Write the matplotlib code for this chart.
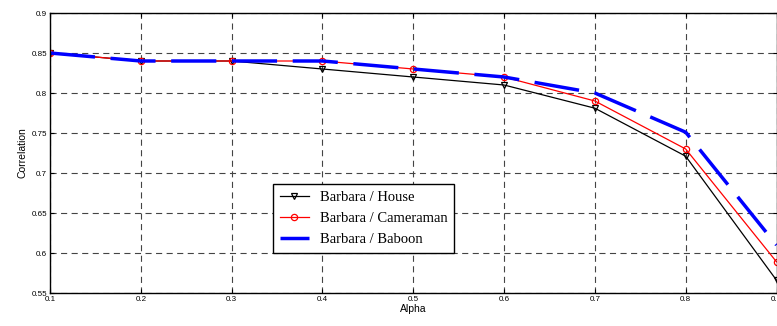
import matplotlib
matplotlib.use("Agg")
import matplotlib.pyplot as plt

alpha = [0.1, 0.2, 0.3, 0.4, 0.5, 0.6, 0.7, 0.8, 0.9]
house = [0.85, 0.84, 0.84, 0.83, 0.82, 0.81, 0.781, 0.721, 0.566]
cameraman = [0.85, 0.84, 0.84, 0.84, 0.83, 0.82, 0.79, 0.73, 0.589]
baboon = [0.85, 0.84, 0.84, 0.84, 0.83, 0.82, 0.80, 0.751, 0.61]
xticks = [0.1, 0.2, 0.3, 0.4, 0.5, 0.6, 0.7, 0.8, 0.9]
yticks = [0.55, 0.6, 0.65, 0.7, 0.75, 0.8, 0.85, 0.9]

fig = plt.figure(figsize=(7.77, 3.26), dpi=100)
ax = fig.add_axes([50/777, (326-293)/326, 726.5/777, 280/326])

ax.plot(alpha, house, color='black', lw=0.9, marker='v', ms=4.5, mfc='none', mec='black', mew=0.9,
        label='Barbara / House')
ax.plot(alpha, cameraman, color='red', lw=0.9, marker='o', ms=4.5, mfc='none', mec='red', mew=0.9,
        label='Barbara / Cameraman')
ax.plot(alpha, baboon, color='blue', lw=2.5, linestyle=(0, (13, 4.5)),
        label='Barbara / Baboon')

ax.set_xlim(0.1, 0.9)
ax.set_ylim(0.55, 0.9)
ax.set_xticks(xticks)
ax.set_yticks(yticks)
ax.set_xticklabels([f"{v:g}" for v in xticks], fontsize=5.8, family='Liberation Sans')
ax.set_yticklabels([f"{v:g}" for v in yticks], fontsize=5.8, family='Liberation Sans')
ax.tick_params(direction='in', top=True, right=True, length=3, width=0.8, pad=2)
ax.grid(True, color='#444444', linestyle=(0, (5.5, 4)), lw=0.8)
for s in ax.spines.values():
    s.set_linewidth(1.0)
ax.set_xlabel('Alpha', fontsize=7.5, family='Liberation Sans', labelpad=1)
ax.set_ylabel('Correlation', fontsize=7.5, family='Liberation Sans', labelpad=3)

leg = ax.legend(loc='lower left', bbox_to_anchor=((273-50)/726.5, (293-253)/280),
                prop={'family': 'Liberation Serif', 'size': 10.5}, fancybox=False,
                edgecolor='black', framealpha=1, borderpad=0.45, labelspacing=0.55,
                handlelength=2.0, handletextpad=0.75, borderaxespad=0)
leg.get_frame().set_linewidth(1.0)

fig.savefig('out.png', dpi=100)
